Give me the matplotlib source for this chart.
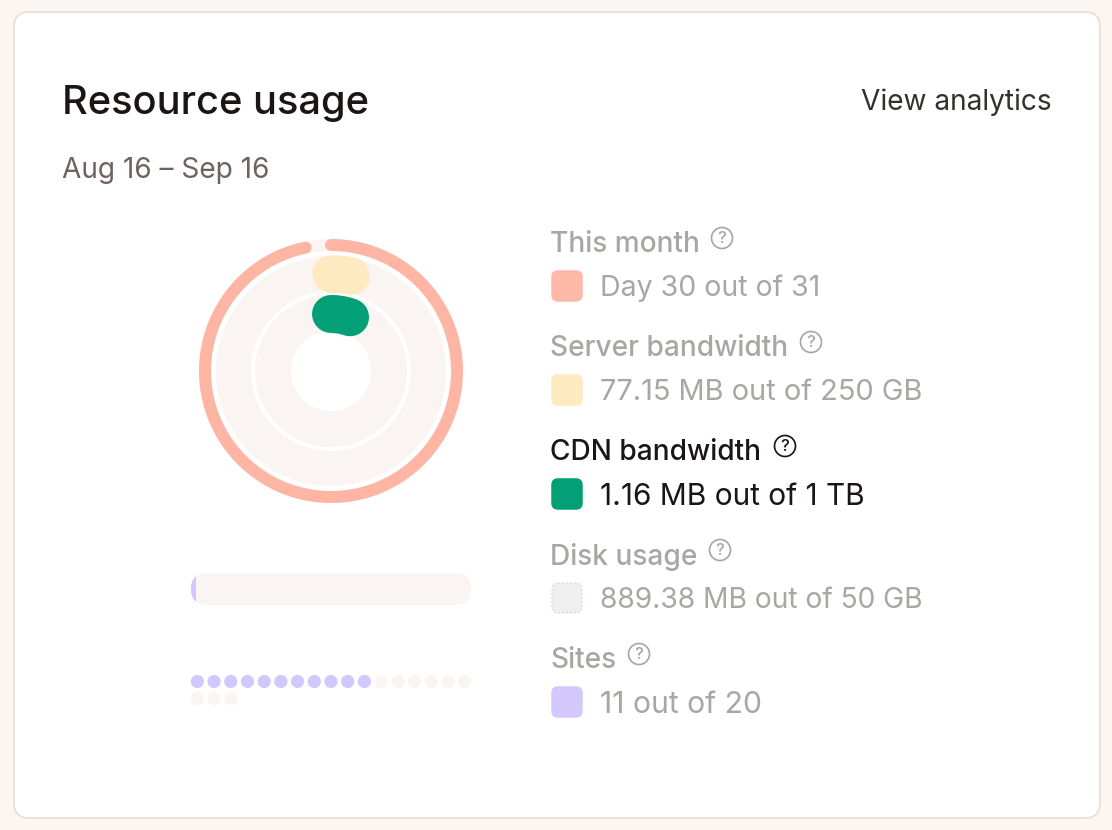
import numpy as np
import matplotlib
matplotlib.use("Agg")
import matplotlib.pyplot as plt
from matplotlib.patches import FancyBboxPatch, Circle

plt.rcParams["font.family"] = ["Inter", "DejaVu Sans"]

W, H = 1112, 830
PT = 0.72  # px to pt at dpi 100

# data
legend_titles = ["This month", "Server bandwidth", "CDN bandwidth", "Disk usage", "Sites"]
legend_values = ["Day 30 out of 31", "77.15 MB out of 250 GB", "1.16 MB out of 1 TB",
                 "889.38 MB out of 50 GB", "11 out of 20"]
legend_colors = ["#ffb9a9", "#feeabf", "#03a077", "#efefef", "#d2c8fe"]
legend_active = [False, False, True, False, False]

days_done = 30
days_total = 31
server_arc_deg = 12
cdn_arc_deg = 19.5
disk_used_mb = 889.38
disk_total_mb = 50000
sites_used = 11
sites_total = 20
sites_per_row = 17

TRACK = "#faf5f2"
ORANGE = "#ffb5a3"
YELLOW = "#fee9c0"
GREEN = "#03a077"
PURPLE = "#d2c8fe"
DIM = "#a9a6a4"
DARK = "#1b1615"


def px_axes(left, top, width, height, **kw):
    return fig.add_axes([left / W, 1 - (top + height) / H, width / W, height / H], **kw)


fig = plt.figure(figsize=(W / 100, H / 100), dpi=100, facecolor="#fcf6f3")

# card + text layer
bg = fig.add_axes([0, 0, 1, 1])
bg.set_xlim(0, W)
bg.set_ylim(H, 0)
bg.axis("off")
bg.add_patch(FancyBboxPatch((14, 12), 1086, 806, boxstyle="round,pad=0,rounding_size=15",
                            fc="white", ec="#eae1da", lw=2 * PT))

bg.text(62, 100, "Resource usage", fontsize=28.7, fontweight="medium", color=DARK, va="center_baseline")
bg.text(1052, 99.5, "View analytics", fontsize=20.2, color="#35302e", ha="right", va="center_baseline")
bg.text(62, 168, "Aug 16 – Sep 16", fontsize=20.2, color="#6f6360", va="center_baseline")

# legend
title_y = [241.5, 345.5, 449.5, 553.5, 657.5]
icon_x = [722, 811, 785, 720, 639]
# reference uses tabular digits, so each row gets its own size to keep the width
value_sizes = [20.5, 20.9, 21.5, 20.3, 21.7]
for i in range(len(legend_titles)):
    active = legend_active[i]
    y = title_y[i]
    bg.text(550.5, y, legend_titles[i], fontsize=20.2, color=DARK if active else DIM,
            fontweight="medium", va="center_baseline")
    bg.text(599.5, y + 44, legend_values[i], fontsize=value_sizes[i], color=DARK if active else DIM,
            va="center_baseline")
    ic = DARK if active else DIM
    bg.add_patch(Circle((icon_x[i], y - 3.5), 10.5, fc="none", ec=ic, lw=1.7 * PT))
    bg.text(icon_x[i], y - 3.5, "?", fontsize=12, color=ic, ha="center", va="center", fontweight="medium")
    ec = "#d9d5f5" if legend_titles[i] == "Disk usage" else legend_colors[i]
    ls = ":" if legend_titles[i] == "Disk usage" else "-"
    bg.add_patch(FancyBboxPatch((552, y + 29.5), 30, 30, boxstyle="round,pad=0,rounding_size=6",
                                fc=legend_colors[i], ec=ec, lw=1.5 * PT, ls=ls))

# rings
pol = px_axes(199, 239, 264, 264, projection="polar")
pol.set_theta_zero_location("N")
pol.set_theta_direction(-1)
pol.set_ylim(0, 132)
pol.axis("off")
pol.patch.set_visible(False)
full = 2 * np.pi
pol.bar(0, 12, width=full, bottom=120, color=TRACK, lw=0)
pol.bar(0, 35, width=full, bottom=80, color=TRACK, lw=0)
pol.bar(0, 36, width=full, bottom=40, color=TRACK, lw=0)


def arc(end_deg, r, thick, color):
    t = np.radians(np.linspace(0, end_deg, 200))
    pol.plot(t, np.full_like(t, r), color=color, lw=thick * PT, solid_capstyle="round", clip_on=False)


arc(360 * days_done / days_total, 126, 12, ORANGE)
arc(server_arc_deg, 97, 37.5, YELLOW)
arc(cdn_arc_deg, 57, 38, GREEN)

# disk usage bar
bar_ax = px_axes(191, 573, 280, 32)
bar_ax.set_xlim(0, disk_total_mb)
bar_ax.set_ylim(0, 1)
bar_ax.axis("off")
clip = FancyBboxPatch((191, 573), 280, 32, boxstyle="round,pad=0,rounding_size=16",
                      fc=TRACK, ec="none", transform=bg.transData)
bg.add_patch(clip)
used = bar_ax.barh(0.5, disk_used_mb, height=1, left=0, color=PURPLE, lw=0)
for b in used:
    b.set_clip_path(clip)

# sites dots
dots = px_axes(191, 673, 280, 34)
dots.set_xlim(-0.38, 16.38)
dots.set_ylim(1.5, -0.5)
dots.axis("off")
idx = np.arange(sites_total)
colors = [PURPLE if i < sites_used else TRACK for i in idx]
dots.scatter(idx % sites_per_row, idx // sites_per_row, s=(13.2 * PT) ** 2, c=colors, lw=0, clip_on=False)

fig.savefig("out.png", dpi=100, facecolor=fig.get_facecolor())
